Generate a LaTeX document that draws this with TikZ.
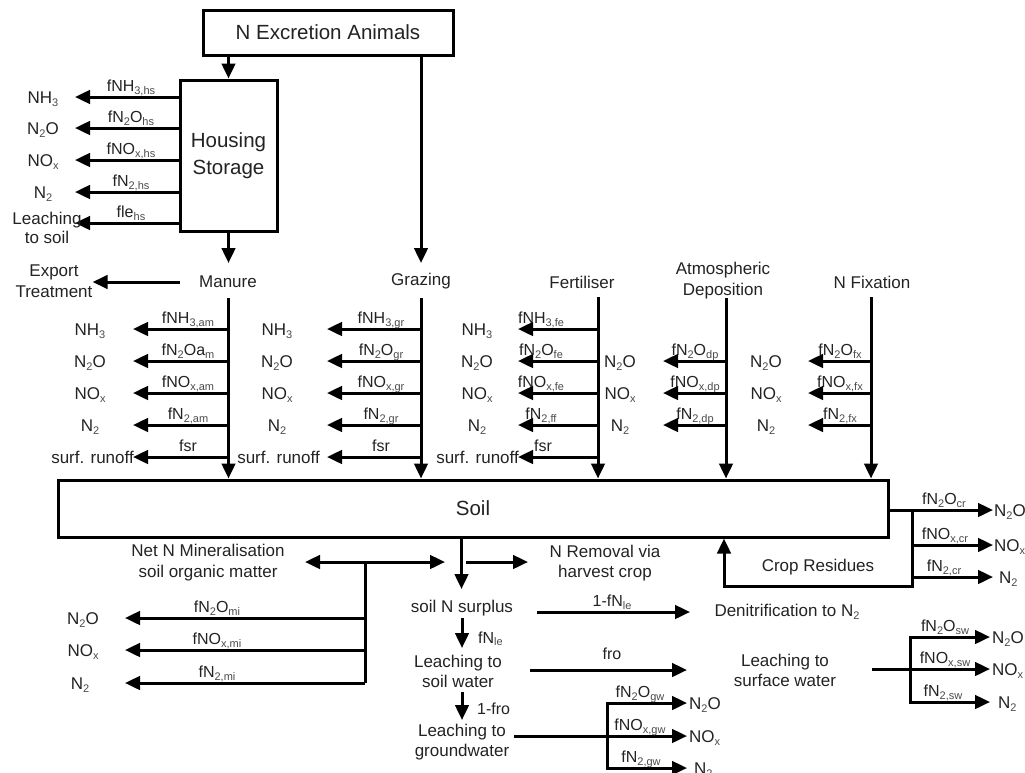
\documentclass[tikz,border=0pt]{standalone}
\usepackage{fontspec}
\setmainfont{Liberation Sans}
\usetikzlibrary{arrows.meta}
\definecolor{txt}{RGB}{35,35,35}
\definecolor{subc}{RGB}{75,75,75}
\newcommand{\sbx}[1]{\raisebox{-0.35ex}{\fontsize{11}{10}\selectfont\color{subc}#1}}
% name, trunk x, tip x, y, chem x, chem text, f x, f text, chem anchor
\newcommand{\br}[9]{%
  \coordinate (#1s) at (#2,#4);
  \coordinate (#1e) at (#3,#4);
  \draw[ar] (#1s) -- (#1e);
  \node[chem,anchor=#9] (#1c) at (#5,#4+6) {#6};
  \node[fl,anchor=base] (#1f) at (#7,#4-5.5) {#8};}
\begin{document}
\begin{tikzpicture}[x=1pt,y=-1pt,
  ln/.style={line width=3pt,line cap=rect},
  ar/.style={line width=3pt,-{Triangle[length=15pt,width=13.5pt]}},
  dar/.style={line width=3pt,{Triangle[length=15pt,width=13.5pt]}-{Triangle[length=15pt,width=13.5pt]}},
  box/.style={draw,line width=3pt,inner sep=0pt,text=txt},
  lbl/.style={text=txt,font=\fontsize{17}{21}\selectfont,align=center,inner sep=0pt},
  chem/.style={text=txt,font=\fontsize{17}{19}\selectfont,inner sep=0pt},
  fl/.style={text=txt,font=\fontsize{16}{18}\selectfont,inner sep=0pt},
]
\useasboundingbox[fill=white] (0,0) rectangle (1025,772);

% ---------- boxes ----------
\node[box,minimum width=250pt,minimum height=45pt,font=\fontsize{20.5}{24}\selectfont] (exc) at (328,32.5) {N Excretion Animals};
\node[box,minimum width=97pt,minimum height=151pt,font=\fontsize{20.5}{27}\selectfont,align=center] (hs) at (228.5,155.5) {Housing\\Storage};
\node[box,minimum width=830pt,minimum height=57pt,font=\fontsize{20.5}{24}\selectfont] (soil) at (473,508.5) {Soil};

% ---------- top flows ----------
\draw[ar] (hs.north |- exc.south) -- (hs.north);
\coordinate (gtop) at (421,263);
\draw[ar] (gtop |- exc.south) -- (gtop);
\coordinate (mtop) at (228.5,263);
\draw[ar] (hs.south) -- (mtop);

% ---------- source labels ----------
\node[lbl] (man) at (228,282) {Manure};
\node[lbl] (gr) at (421,281) {Grazing};
\node[lbl] (fe) at (582,282) {Fertiliser};
\node[lbl,font=\fontsize{17}{21}\selectfont] (atm) at (723,281) {Atmospheric\\Deposition};
\node[lbl] (fix) at (872,282) {N Fixation};
\node[lbl,font=\fontsize{17}{21}\selectfont] (exp) at (54,281.5) {Export\\Treatment};
\draw[ar] ([xshift=-19pt]man.west) -- (exp.east |- man.west);

% ---------- trunks into soil ----------
\coordinate (mt) at (228.5,298);
\coordinate (gt) at (421,298);
\coordinate (ft) at (598,297);
\coordinate (at) at (726,298);
\coordinate (xt) at (871,297);
\draw[ar] (mt) -- (mt |- soil.north);
\draw[ar] (gt) -- (gt |- soil.north);
\draw[ar] (ft) -- (ft |- soil.north);
\draw[ar] (at) -- (at |- soil.north);
\draw[ar] (xt) -- (xt |- soil.north);

% ---------- housing storage losses ----------
\br{h1}{180}{75}{97}{43}{NH\sbx{3}}{131}{fNH\sbx{3,hs}}{base}
\br{h2}{180}{75}{128}{43}{N\sbx{2}O}{131}{fN\sbx{2}O\sbx{hs}}{base}
\br{h3}{180}{75}{160}{43}{NO\sbx{x}}{131}{fNO\sbx{x,hs}}{base}
\br{h4}{180}{75}{192}{43}{N\sbx{2}}{131}{fN\sbx{2,hs}}{base}
\coordinate (h5s) at (180,223);
\coordinate (h5e) at (75,223);
\draw[ar] (h5s) -- (h5e);
\node[fl,anchor=base] (h5f) at (131,217.5) {fle\sbx{hs}};
\node[lbl,font=\fontsize{17}{19.5}\selectfont] (leach) at (47,228) {Leaching\\to soil};

% ---------- manure losses ----------
\br{m1}{228.5}{133}{329}{90}{NH\sbx{3}}{188}{fNH\sbx{3,am}}{base}
\br{m2}{228.5}{133}{361}{90}{N\sbx{2}O}{188}{fN\sbx{2}Oa\sbx{m}}{base}
\br{m3}{228.5}{133}{393}{90}{NO\sbx{x}}{188}{fNO\sbx{x,am}}{base}
\br{m4}{228.5}{133}{425}{90}{N\sbx{2}}{188}{fN\sbx{2,am}}{base}
\br{m5}{228.5}{133}{457}{134}{surf. runoff}{188}{fsr}{base east}

% ---------- grazing losses ----------
\br{g1}{421}{327}{329}{277}{NH\sbx{3}}{381}{fNH\sbx{3,gr}}{base}
\br{g2}{421}{327}{361}{277}{N\sbx{2}O}{381}{fN\sbx{2}O\sbx{gr}}{base}
\br{g3}{421}{327}{393}{277}{NO\sbx{x}}{381}{fNO\sbx{x,gr}}{base}
\br{g4}{421}{327}{425}{277}{N\sbx{2}}{381}{fN\sbx{2,gr}}{base}
\br{g5}{421}{327}{457}{320}{surf. runoff}{381}{fsr}{base east}

% ---------- fertiliser losses ----------
\br{f1}{598}{518}{329}{477}{NH\sbx{3}}{541}{fNH\sbx{3,fe}}{base}
\br{f2}{598}{518}{361}{477}{N\sbx{2}O}{541}{fN\sbx{2}O\sbx{fe}}{base}
\br{f3}{598}{518}{393}{477}{NO\sbx{x}}{541}{fNO\sbx{x,fe}}{base}
\br{f4}{598}{518}{425}{477}{N\sbx{2}}{541}{fN\sbx{2,ff}}{base}
\br{f5}{598}{518}{457}{519}{surf. runoff}{543}{fsr}{base east}

% ---------- deposition losses ----------
\br{a1}{726}{663}{361}{620}{N\sbx{2}O}{695}{fN\sbx{2}O\sbx{dp}}{base}
\br{a2}{726}{663}{393}{620}{NO\sbx{x}}{695}{fNO\sbx{x,dp}}{base}
\br{a3}{726}{663}{425}{620}{N\sbx{2}}{695}{fN\sbx{2,dp}}{base}

% ---------- fixation losses ----------
\br{x1}{871}{808}{361}{766}{N\sbx{2}O}{840}{fN\sbx{2}O\sbx{fx}}{base}
\br{x2}{871}{808}{393}{766}{NO\sbx{x}}{840}{fNO\sbx{x,fx}}{base}
\br{x3}{871}{808}{425}{766}{N\sbx{2}}{840}{fN\sbx{2,fx}}{base}

% ---------- crop residues ----------
\node[lbl] (crop) at (818,567) {Crop Residues};
\br{c1}{912}{993}{510}{994}{N\sbx{2}O}{944}{fN\sbx{2}O\sbx{cr}}{base west}
\br{c2}{912}{993}{545}{994}{NO\sbx{x}}{945}{fNO\sbx{x,cr}}{base west}
\br{c3}{912}{993}{577}{999}{N\sbx{2}}{944}{fN\sbx{2,cr}}{base west}
\coordinate (cr1) at (912,586);
\coordinate (cr2) at (724,586);
\draw[ln,line cap=butt] (soil.east |- c1s) -- (c1s) -- (cr1) -- (cr2) -- (cr2 |- crop.center);
\draw[ar] (cr2 |- crop.center) -- (cr2 |- soil.south);

% ---------- below soil ----------
\node[lbl,font=\fontsize{17}{21}\selectfont] (min) at (208,563) {Net N Mineralisation\\soil organic matter};
\node[lbl,font=\fontsize{17}{20}\selectfont] (rem) at (605,563) {N Removal via\\harvest crop};
\node[lbl] (sur) at (462,608) {soil N surplus};
\node[lbl] (den) at (787,612) {Denitrification to N\sbx{2}};
\node[lbl,font=\fontsize{17}{20}\selectfont] (lsw) at (458,671) {Leaching to\\soil water};
\node[lbl,font=\fontsize{17}{20}\selectfont] (lsf) at (785,670) {Leaching to\\surface water};
\node[lbl,font=\fontsize{17}{20}\selectfont] (lgw) at (462,742) {Leaching to\\groundwater};

\coordinate (sx) at (461.5,589);
\draw[ar] (sx |- soil.south) -- (sx);
\coordinate (dl) at (305,562);
\coordinate (dr) at (445,562);
\draw[dar] (dl) -- (dr);
\coordinate (rl) at (466,562);
\coordinate (rr) at (528,562);
\draw[ar] (rl) -- (rr);

\coordinate (d1) at (537,612);
\coordinate (d2) at (690,612);
\draw[ar] (d1) -- (d2);
\node[fl,anchor=base] (dlab) at (612,606.5) {1-fN\sbx{le}};

\coordinate (s1) at (462,618);
\coordinate (s2) at (462,648);
\draw[ar] (s1) -- (s2);
\node[fl,anchor=base west] (slab) at (478,643) {fN\sbx{le}};

\coordinate (o1) at (530,670);
\coordinate (o2) at (687,670);
\draw[ar] (o1) -- (o2);
\node[fl,anchor=base] (olab) at (612,659) {fro};

\coordinate (w1) at (462,692);
\coordinate (w2) at (462,720);
\draw[ar] (w1) -- (w2);
\node[fl,anchor=base west] (wlab) at (477,714) {1-fro};

% mineralisation losses
\br{n1}{365}{125}{618}{83}{N\sbx{2}O}{217}{fN\sbx{2}O\sbx{mi}}{base}
\br{n2}{365}{125}{650}{83}{NO\sbx{x}}{217}{fNO\sbx{x,mi}}{base}
\br{n3}{365}{125}{683}{80}{N\sbx{2}}{217}{fN\sbx{2,mi}}{base}
\draw[ln,line cap=butt] (n1s |- dl) -- (n3s);

% surface water losses
\br{v1}{910}{990}{637}{992}{N\sbx{2}O}{945}{fN\sbx{2}O\sbx{sw}}{base west}
\br{v2}{910}{990}{669}{992}{NO\sbx{x}}{945}{fNO\sbx{x,sw}}{base west}
\br{v3}{910}{990}{702}{998}{N\sbx{2}}{943}{fN\sbx{2,sw}}{base west}
\coordinate (vin) at (872,669);
\draw[ln,line cap=butt] (vin) -- (v2s);
\draw[ln] (v1s) -- (v3s);

% groundwater losses
\br{q1}{607}{687}{703}{689}{N\sbx{2}O}{640}{fN\sbx{2}O\sbx{gw}}{base west}
\br{q2}{607}{687}{736}{689}{NO\sbx{x}}{640}{fNO\sbx{x,gw}}{base west}
\br{q3}{607}{687}{768}{694}{N\sbx{2}}{641}{fN\sbx{2,gw}}{base west}
\coordinate (qin) at (514,736);
\draw[ln,line cap=butt] (qin) -- (q2s);
\draw[ln] (q1s) -- (q3s);
\end{tikzpicture}
\end{document}
